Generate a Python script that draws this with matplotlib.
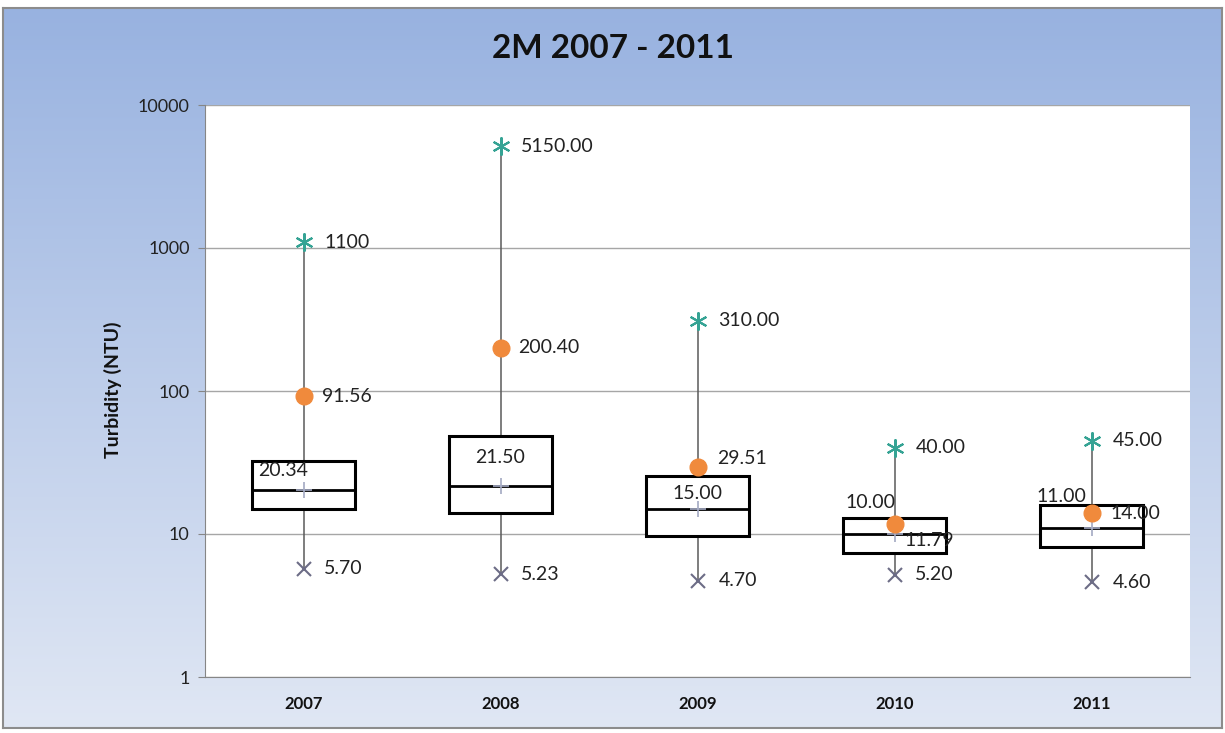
import numpy as np
import matplotlib
matplotlib.use("Agg")
from matplotlib import pyplot as plt
from matplotlib.patches import Rectangle

plt.rcParams.update({
    "font.family": ["Lato", "DejaVu Sans"],
    "font.size": 12,
})

# Data
years = ["2007", "2008", "2009", "2010", "2011"]
max_vals = [1100, 5150.00, 310.00, 40.00, 45.00]
min_vals = [5.70, 5.23, 4.70, 5.20, 4.60]
mean_vals = [91.56, 200.40, 29.51, 11.79, 14.00]
median_vals = [20.34, 21.50, 15.00, 10.00, 11.00]
q1_vals = [15.0, 14.0, 9.7, 7.4, 8.1]
q3_vals = [32.4, 48.4, 25.5, 12.9, 16.0]
max_labels = ["1100", "5150.00", "310.00", "40.00", "45.00"]

# label offsets in points (hand placed in the original)
median_off = [(-15, 14), (0, 21), (0, 11), (-17, 23), (-22, 23)]
mean_off = [(13, 0), (13, 0), (14, 6), (7, -12), (14, 0)]

fig = plt.figure(figsize=(12.25, 7.33), dpi=100)

# gradient background with a grey frame
bg = fig.add_axes([3 / 1225, 5 / 733, 1219 / 1225, 720 / 733], zorder=-10)
top = np.array([152, 178, 224]) / 255
bot = np.array([224, 231, 244]) / 255
t = np.linspace(0, 1, 256)[:, None]
grad = (top * (1 - t) + bot * t)[:, None, :]
bg.imshow(grad, aspect="auto", extent=[0, 1, 0, 1])
bg.set_xticks([])
bg.set_yticks([])
for s in bg.spines.values():
    s.set_color("#8c8c8c")
    s.set_linewidth(1.5)

ax = fig.add_axes([205 / 1225, 56 / 733, 985 / 1225, 572 / 733])
ax.set_facecolor("white")
ax.set_yscale("log")
ax.set_ylim(1, 10000)
ax.set_xlim(-0.5, len(years) - 0.5)

x = np.arange(len(years))
bw = 0.52

# whiskers
ax.vlines(x, min_vals, max_vals, color="#5a5a5a", lw=1.1, zorder=2)

# boxes
for i in range(len(years)):
    ax.add_patch(Rectangle((x[i] - bw / 2, q1_vals[i]), bw, q3_vals[i] - q1_vals[i],
                           facecolor="white", edgecolor="black", lw=2.2, zorder=3))
    ax.plot([x[i] - bw / 2, x[i] + bw / 2], [median_vals[i]] * 2, color="black",
            lw=2.0, zorder=4)

ax.plot(x, median_vals, ls="none", marker="+", ms=11, mew=1.2, color="#a3a9c2", zorder=5)
ax.plot(x, mean_vals, ls="none", marker="o", ms=12, color="#f08a3c", zorder=6)
ax.plot(x, max_vals, ls="none", marker=(6, 2, 0), ms=13, mew=1.5, color="#35a394", zorder=6)
ax.plot(x, min_vals, ls="none", marker="x", ms=10, mew=1.5, color="#6c6c86", zorder=6)

lab = dict(fontsize=14, color="#222222", zorder=7)
for i in range(len(years)):
    ax.annotate(max_labels[i], (x[i], max_vals[i]), xytext=(15, 0),
                textcoords="offset points", ha="left", va="center", **lab)
    ax.annotate(f"{min_vals[i]:.2f}", (x[i], min_vals[i]), xytext=(15, 0),
                textcoords="offset points", ha="left", va="center", **lab)
    ax.annotate(f"{mean_vals[i]:.2f}", (x[i], mean_vals[i]), xytext=mean_off[i],
                textcoords="offset points", ha="left", va="center", **lab)
    ax.annotate(f"{median_vals[i]:.2f}", (x[i], median_vals[i]), xytext=median_off[i],
                textcoords="offset points", ha="center", va="center", **lab)

# axes styling
ax.set_yticks([1, 10, 100, 1000, 10000])
ax.set_yticklabels(["1", "10", "100", "1000", "10000"])
ax.yaxis.set_minor_locator(plt.NullLocator())
ax.grid(axis="y", which="major", color="#a6a6a6", lw=1)
ax.set_axisbelow(True)
ax.tick_params(axis="y", length=5, color="#868686", labelsize=13, labelcolor="#222222", pad=6)
ax.set_xticks(x)
ax.set_xticklabels(years, fontweight="bold", fontsize=12)
ax.tick_params(axis="x", length=0, pad=14, labelcolor="#111111")
for s in ["top", "right"]:
    ax.spines[s].set_visible(False)
for s in ["left", "bottom"]:
    ax.spines[s].set_color("#868686")

fig.text(113 / 1225, 1 - 390 / 733, "Turbidity (NTU)", rotation=90, ha="center",
         va="center", fontweight="bold", fontsize=14, color="#111111")
fig.text(0.5, 0.934, "2M 2007 - 2011", ha="center", va="center",
         fontsize=24, fontweight="bold", color="#111111")

fig.savefig("out.png", dpi=100)
